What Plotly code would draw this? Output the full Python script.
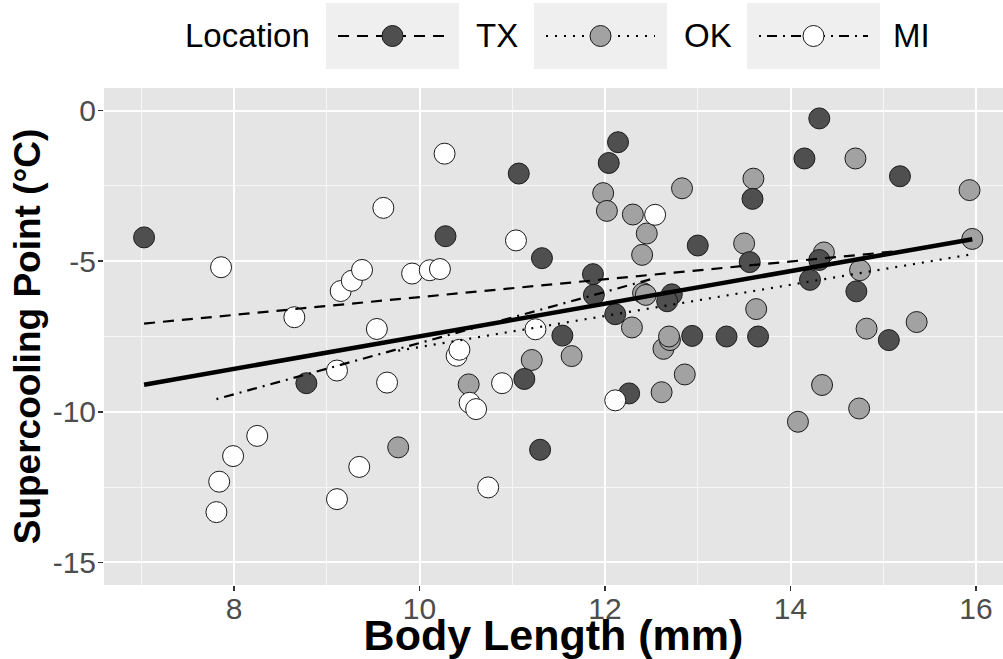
import plotly.graph_objects as go

# ---------------- data ----------------
tx_x = [7.03, 8.78, 10.28, 11.07, 11.32, 11.13, 11.30, 11.54, 11.87, 11.88, 12.04, 12.14,
        12.11, 12.26, 12.72, 12.67, 12.94, 13.00, 13.31, 13.56, 13.59, 13.65, 14.15, 14.21,
        14.31, 14.31, 14.71, 15.06, 15.18]
tx_y = [-4.21, -9.05, -4.17, -2.09, -4.90, -8.91, -11.26, -7.47, -5.43, -6.12, -1.74, -1.05,
        -6.76, -9.39, -6.10, -6.33, -7.48, -4.48, -7.50, -5.03, -2.93, -7.50, -1.59, -5.62,
        -0.26, -4.96, -6.00, -7.62, -2.18]

ok_x = [9.77, 10.53, 11.21, 11.64, 11.98, 12.02, 12.30, 12.45, 12.40, 12.41, 12.44, 12.29,
        12.63, 12.70, 12.69, 12.61, 12.86, 12.83, 13.50, 13.60, 13.63, 14.08, 14.34, 14.36,
        14.70, 14.74, 14.75, 14.82, 15.36, 15.93, 15.96]
ok_y = [-11.18, -9.09, -8.28, -8.15, -2.74, -3.33, -3.45, -4.08, -4.79, -6.06, -6.12, -7.20,
        -7.91, -7.62, -7.50, -9.35, -8.76, -2.58, -4.41, -2.26, -6.59, -10.33, -9.11, -4.71,
        -1.59, -9.89, -5.30, -7.24, -7.02, -2.64, -4.26]

mi_x = [7.81, 7.84, 7.86, 7.99, 8.25, 8.65, 9.11, 9.11, 9.15, 9.27, 9.35, 9.38, 9.54, 9.61,
        9.65, 9.92, 10.11, 10.22, 10.27, 10.40, 10.43, 10.54, 10.61, 10.74, 10.89, 11.04,
        11.25, 12.11, 12.54]
mi_y = [-13.33, -12.32, -5.20, -11.47, -10.80, -6.86, -8.63, -12.90, -5.99, -5.65, -11.83,
        -5.29, -7.25, -3.23, -9.03, -5.41, -5.30, -5.26, -1.43, -8.14, -7.94, -9.70, -9.91,
        -12.51, -9.05, -4.31, -7.26, -9.62, -3.46]

# fitted trend lines (end points)
tx_fit_x = [7.03, 15.18]
tx_fit_y = [-7.07, -4.66]
ok_fit_x = [9.77, 15.96]
ok_fit_y = [-7.97, -4.77]
mi_fit_x = [7.81, 12.54]
mi_fit_y = [-9.58, -5.56]
all_fit_x = [7.03, 15.96]
all_fit_y = [-9.10, -4.27]

locations = ["TX", "OK", "MI"]
x_ticks = [8, 10, 12, 14, 16]
x_tick_text = ["8", "10", "12", "14", "16"]
y_ticks = [0, -5, -10, -15]
y_tick_text = ["0", "-5", "-10", "-15"]

# ---------------- style ----------------
W, H = 1003, 659
ML, MR, MT, MB = 104, 0, 88, 74
FONT = "Liberation Sans, Arial, sans-serif"
fills = {"TX": "#4f4f4f", "OK": "#a2a2a2", "MI": "#ffffff"}
dashes = {"TX": "11px,8px", "OK": "2px,7px", "MI": "2px,6px,10px,6px"}

fig = go.Figure()

groups = {"TX": (tx_x, tx_y), "OK": (ok_x, ok_y), "MI": (mi_x, mi_y)}
for loc in ["OK", "TX", "MI"]:
    xs, ys = groups[loc]
    fig.add_trace(go.Scatter(
        x=xs, y=ys, mode="markers", name=loc, showlegend=False,
        marker=dict(size=21, color=fills[loc], line=dict(color="#1a1a1a", width=1)),
    ))

fits = {"TX": (tx_fit_x, tx_fit_y), "OK": (ok_fit_x, ok_fit_y), "MI": (mi_fit_x, mi_fit_y)}
for loc in locations:
    fx, fy = fits[loc]
    fig.add_trace(go.Scatter(
        x=fx, y=fy, mode="lines", name=loc + " fit", showlegend=False,
        line=dict(color="black", width=2.2, dash=dashes[loc]),
    ))
fig.add_trace(go.Scatter(
    x=all_fit_x, y=all_fit_y, mode="lines", name="All", showlegend=False,
    line=dict(color="black", width=4.5),
))

# ---------------- manual legend (ggplot style, on top) ----------------
pw, ph = W - ML - MR, H - MT - MB


def px(xp):
    return (xp - ML) / pw


def py(yp):
    return (H - MB - yp) / ph


shapes = []
annotations = []
key_left = {"TX": 326, "OK": 534, "MI": 747}
text_left = {"TX": 474, "OK": 682, "MI": 891}
key_w, key_top, key_bot = 133, 3, 69
ky = (key_top + key_bot) / 2

annotations.append(dict(
    x=px(183), y=py(ky), xref="paper", yref="paper", xanchor="left", yanchor="middle",
    text="Location", showarrow=False, font=dict(family=FONT, size=33, color="black"),
))
for loc in locations:
    kl = key_left[loc]
    shapes.append(dict(type="rect", xref="paper", yref="paper",
                       x0=px(kl), x1=px(kl + key_w), y0=py(key_bot), y1=py(key_top),
                       fillcolor="#efefef", line=dict(width=0), layer="above"))
    shapes.append(dict(type="line", xref="paper", yref="paper",
                       x0=px(kl + 12), x1=px(kl + key_w - 12), y0=py(ky), y1=py(ky),
                       line=dict(color="black", width=2.2, dash=dashes[loc]), layer="above"))
    cx = kl + key_w / 2
    shapes.append(dict(type="circle", xref="paper", yref="paper",
                       xsizemode="pixel", ysizemode="pixel",
                       xanchor=px(cx), yanchor=py(ky), x0=-10.5, x1=10.5, y0=-10.5, y1=10.5,
                       fillcolor=fills[loc], line=dict(color="#1a1a1a", width=1), layer="above"))
    annotations.append(dict(
        x=px(text_left[loc]), y=py(ky), xref="paper", yref="paper", xanchor="left",
        yanchor="middle", text=loc, showarrow=False,
        font=dict(family=FONT, size=33, color="black"),
    ))

fig.update_layout(
    width=W, height=H,
    margin=dict(l=ML, r=MR, t=MT, b=MB, pad=0, autoexpand=False),
    paper_bgcolor="white", plot_bgcolor="#e5e5e5",
    showlegend=False,
    shapes=shapes, annotations=annotations,
    font=dict(family=FONT),
    hovermode=False,
)
fig.update_xaxes(
    automargin=False,
    range=[6.598, 16.291], tickvals=x_ticks, ticktext=x_tick_text,
    showgrid=True, gridcolor="white", gridwidth=2, zeroline=False,
    minor=dict(tickvals=[7, 9, 11, 13, 15], showgrid=True, gridcolor="#f7f7f7", gridwidth=1, ticks=""),
    ticks="outside", ticklen=5, tickwidth=1.5, tickcolor="#333333",
    tickfont=dict(family=FONT, size=30, color="#4d4d4d"),
    ticklabelstandoff=-8,
    title=dict(text="Body Length (mm)", font=dict(family=FONT, size=43, color="black", weight="bold"),
               standoff=8),
    showline=False,
)
fig.update_yaxes(
    automargin=False,
    range=[-15.75, 0.75], tickvals=y_ticks, ticktext=y_tick_text,
    showgrid=True, gridcolor="white", gridwidth=2, zeroline=False,
    minor=dict(tickvals=[-2.5, -7.5, -12.5], showgrid=True, gridcolor="#f7f7f7", gridwidth=1, ticks=""),
    ticks="outside", ticklen=5, tickwidth=1.5, tickcolor="#333333",
    tickfont=dict(family=FONT, size=30, color="#4d4d4d"),
    ticklabelstandoff=-4,
    title=dict(text="Supercooling Point (°C)", font=dict(family=FONT, size=37, color="black", weight="bold"),
               standoff=0),
    showline=False,
)

fig.write_html(
    "out.html",
    config={"displayModeBar": False, "staticPlot": True},
    post_script="document.body.style.margin='0';document.body.style.overflow='hidden';",
)
